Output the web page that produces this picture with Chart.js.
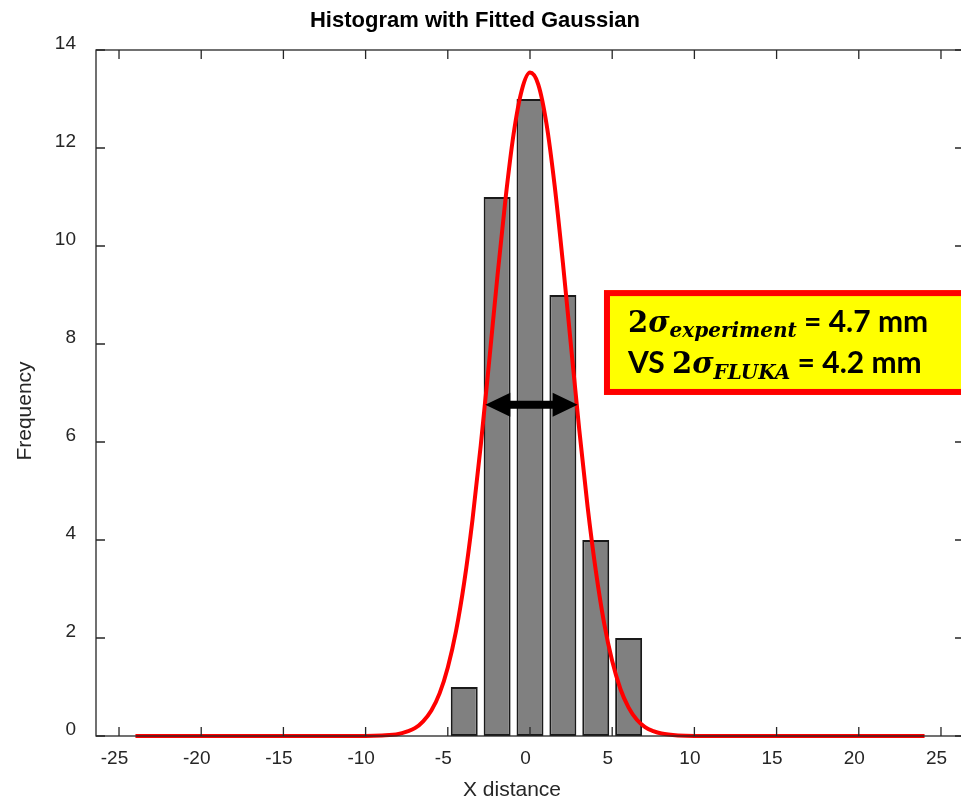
<!DOCTYPE html>
<html>
<head>
<meta charset="utf-8">
<script src="https://cdn.jsdelivr.net/npm/chart.js@4"></script>
<style>
  html, body { margin: 0; padding: 0; background: #fff; overflow: hidden; }
  #wrap { width: 980px; height: 798px; }
</style>
</head>
<body>
<div id="wrap"><canvas id="histChart" width="980" height="798"></canvas></div>
<script>
// histogram bins (centre of each bin) and counts
var binCenters = [-4, -2, 0, 2, 4, 6];
var binCounts = [1, 11, 13, 9, 4, 2];

// fitted gaussian
var fitX = [-24, -10, -9, -8, -7.5, -7, -6.5, -6, -5.5, -5, -4.5, -4, -3.5, -3, -2.5, -2, -1.5, -1, -0.5, 0,
            0.5, 1, 1.5, 2, 2.5, 3, 3.5, 4, 4.5, 5, 5.5, 6, 6.5, 7, 7.5, 8, 9, 10, 24];
var fitY = [0, 0, 0.01, 0.04, 0.09, 0.16, 0.3, 0.52, 0.87, 1.4, 2.14, 3.14, 4.41, 5.92, 7.59, 9.32, 10.93, 12.28, 13.18, 13.54,
            13.3, 12.5, 11.23, 9.66, 7.94, 6.24, 4.69, 3.38, 2.32, 1.53, 0.96, 0.58, 0.33, 0.18, 0.1, 0.05, 0.01, 0, 0];

var xTicks = [-25, -20, -15, -10, -5, 0, 5, 10, 15, 20, 25];
var yTicks = [0, 2, 4, 6, 8, 10, 12, 14];

var axisColor = "#262626";

// box, inward ticks on all four sides, arrow, text box and titles
var matlabLook = {
  id: "matlabLook",
  afterDatasetsDraw: function (chart) {
    var ctx = chart.ctx;
    var a = chart.chartArea;
    var xs = chart.scales.x, ys = chart.scales.y;
    ctx.save();
    ctx.strokeStyle = axisColor;
    ctx.lineWidth = 1.3;
    ctx.strokeRect(a.left, a.top, a.right - a.left, a.bottom - a.top);
    ctx.beginPath();
    xs.ticks.forEach(function (t) {
      var px = xs.getPixelForValue(t.value);
      ctx.moveTo(px, a.bottom); ctx.lineTo(px, a.bottom - 9);
      ctx.moveTo(px, a.top); ctx.lineTo(px, a.top + 9);
    });
    ys.ticks.forEach(function (t) {
      var py = ys.getPixelForValue(t.value);
      ctx.moveTo(a.left, py); ctx.lineTo(a.left + 9, py);
      ctx.moveTo(a.right, py); ctx.lineTo(a.right - 9, py);
    });
    ctx.stroke();

    // double arrow across the fwhm
    var x1 = xs.getPixelForValue(-2.72), x2 = xs.getPixelForValue(2.9), ay = ys.getPixelForValue(6.76);
    ctx.fillStyle = "#000";
    ctx.strokeStyle = "#000";
    ctx.lineWidth = 8;
    ctx.beginPath();
    ctx.moveTo(x1 + 20, ay); ctx.lineTo(x2 - 20, ay);
    ctx.stroke();
    ctx.beginPath();
    ctx.moveTo(x1, ay); ctx.lineTo(x1 + 25, ay - 12); ctx.lineTo(x1 + 25, ay + 12); ctx.closePath();
    ctx.moveTo(x2, ay); ctx.lineTo(x2 - 25, ay - 12); ctx.lineTo(x2 - 25, ay + 12); ctx.closePath();
    ctx.fill();

    // yellow text box
    var bx = xs.getPixelForValue(4.5), by = ys.getPixelForValue(9.1), bb = ys.getPixelForValue(6.96);
    ctx.fillStyle = "#ffff00";
    ctx.fillRect(bx, by, 420, bb - by);
    ctx.strokeStyle = "#ff0000";
    ctx.lineWidth = 6;
    ctx.strokeRect(bx + 3, by + 3, 420, bb - by - 6);

    var line1 = [
      { t: "2", f: "bold 29px 'DejaVu Serif'", dy: 0 },
      { t: "\u03c3", f: "bold italic 29px 'DejaVu Serif'", dy: 0 },
      { t: "experiment", f: "bold italic 20px 'DejaVu Serif'", dy: 5 },
      { t: " = 4.7 mm", f: "bold 30px Lato", dy: 0 }
    ];
    var line2 = [
      { t: "VS ", f: "bold 30px Lato", dy: 0 },
      { t: "2", f: "bold 29px 'DejaVu Serif'", dy: 0 },
      { t: "\u03c3", f: "bold italic 29px 'DejaVu Serif'", dy: 0 },
      { t: "FLUKA", f: "bold italic 20px 'DejaVu Serif'", dy: 6 },
      { t: " = 4.2 mm", f: "bold 30px Lato", dy: 0 }
    ];
    ctx.fillStyle = "#000";
    ctx.textBaseline = "alphabetic";
    ctx.textAlign = "left";
    [[line1, by + 42], [line2, by + 83]].forEach(function (ln) {
      var cx = bx + 24;
      ln[0].forEach(function (p) {
        ctx.font = p.f;
        ctx.fillText(p.t, cx, ln[1] + p.dy);
        cx += ctx.measureText(p.t).width;
      });
    });
    ctx.restore();
  },
  afterDraw: function (chart) {
    var ctx = chart.ctx;
    ctx.save();
    ctx.textAlign = "center";
    ctx.textBaseline = "middle";
    ctx.fillStyle = "#000";
    ctx.font = "bold 22px 'Liberation Sans'";
    ctx.fillText("Histogram with Fitted Gaussian", 475, 21);
    ctx.fillStyle = axisColor;
    ctx.font = "21px 'Liberation Sans'";
    ctx.fillText("X distance", 512, 790);
    ctx.translate(25, 411);
    ctx.rotate(-Math.PI / 2);
    ctx.fillText("Frequency", 0, 0);
    ctx.restore();
  }
};

var ctx = document.getElementById("histChart").getContext("2d");
var histChart = new Chart(ctx, {
  type: "bar",
  data: {
    datasets: [
      {
        type: "line",
        label: "Fitted Gaussian",
        data: fitX.map(function (x, i) { return { x: x, y: fitY[i] }; }),
        borderColor: "#ff0000",
        borderWidth: 4,
        pointRadius: 0,
        fill: false,
        cubicInterpolationMode: "monotone",
        clip: false,
        order: 0
      },
      {
        type: "bar",
        label: "Frequency",
        data: binCenters.map(function (x, i) { return { x: x, y: binCounts[i] }; }),
        backgroundColor: "#808080",
        borderColor: "#1a1a1a",
        borderWidth: 2,
        borderSkipped: false,
        barPercentage: 0.82,
        categoryPercentage: 1,
        order: 1
      }
    ]
  },
  options: {
    responsive: false,
    animation: false,
    layout: { padding: { left: 0, top: 50, right: 16, bottom: 0 } },
    plugins: {
      legend: { display: false },
      title: { display: false },
      tooltip: { enabled: false }
    },
    scales: {
      x: {
        type: "linear",
        min: -26.4,
        max: 26.4,
        offset: false,
        grid: { display: false, drawTicks: false },
        border: { display: false },
        ticks: {
          color: axisColor,
          font: { family: "'Liberation Sans'", size: 19 },
          padding: 11,
          labelOffset: -4.5,
          maxRotation: 0
        },
        afterBuildTicks: function (s) { s.ticks = xTicks.map(function (v) { return { value: v }; }); },
        afterFit: function (s) { s.height = 62; }
      },
      y: {
        min: 0,
        max: 14,
        grid: { display: false, drawTicks: false },
        border: { display: false },
        ticks: {
          color: axisColor,
          font: { family: "'Liberation Sans'", size: 19 },
          padding: 20,
          labelOffset: -6.5
        },
        afterBuildTicks: function (s) { s.ticks = yTicks.map(function (v) { return { value: v }; }); },
        afterFit: function (s) { s.width = 96; }
      }
    }
  },
  plugins: [matlabLook]
});
</script>
</body>
</html>
